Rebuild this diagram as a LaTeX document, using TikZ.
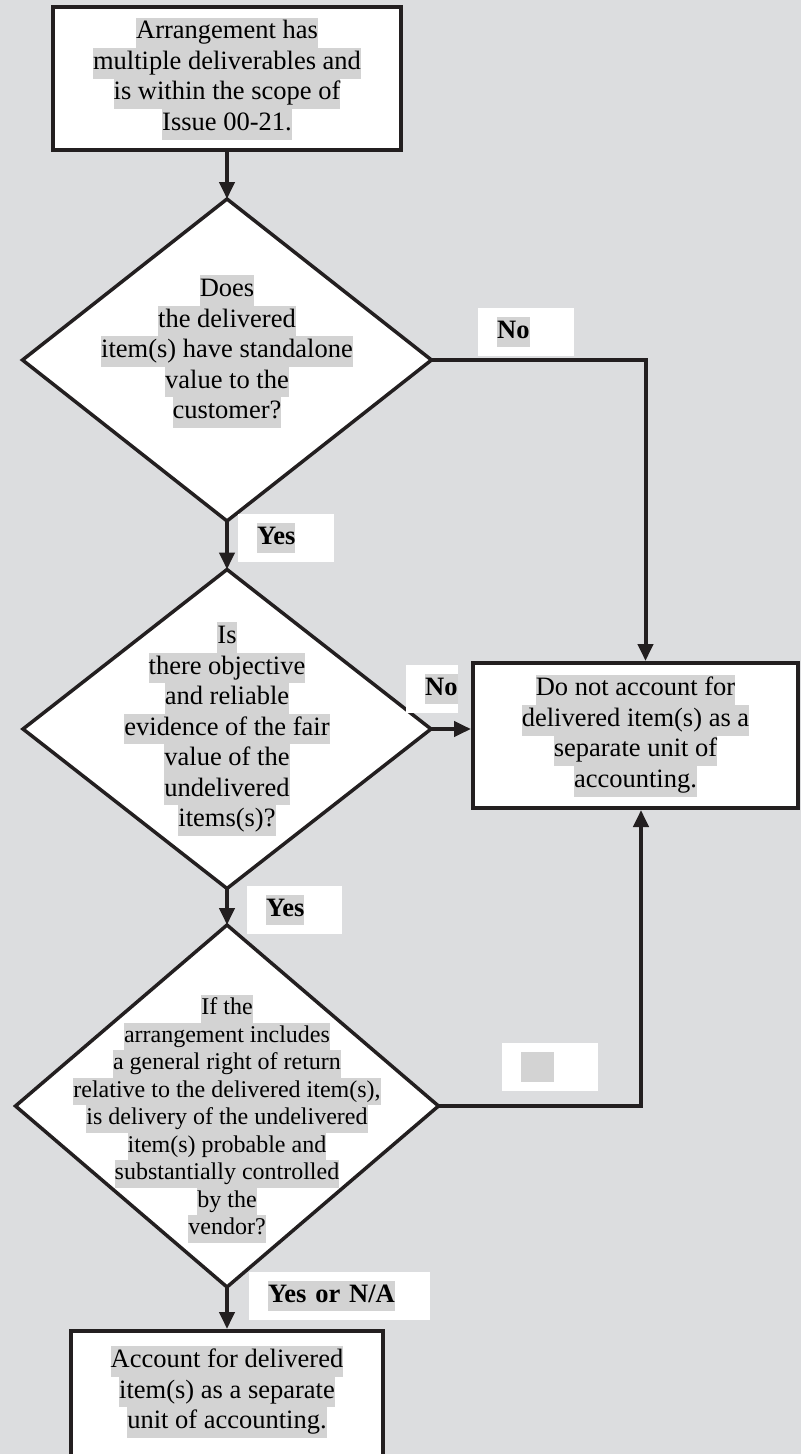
\documentclass[tikz,border=0pt]{standalone}
\usepackage{fontspec}
\setmainfont{Liberation Serif}
\usepackage{xcolor}
\usepackage{tikz}
\usetikzlibrary{shapes.geometric, arrows.meta}
\definecolor{bggray}{HTML}{DCDDDF}
\definecolor{hlgray}{HTML}{D3D3D3}
\definecolor{ink}{HTML}{231F20}
\newcommand{\hl}[1]{{\setlength{\fboxsep}{0pt}\colorbox{hlgray}{\strut #1}}}

\begin{document}
\begin{tikzpicture}[x=1pt, y=-1pt,
        box/.style={rectangle, draw=ink, line width=4pt, fill=white, inner sep=0pt, align=center, font=\fontsize{26.5}{30.5}\selectfont},
        decision/.style={diamond, draw=ink, line width=3.5pt, fill=white, inner sep=0pt, outer sep=0pt},
        question/.style={align=center, inner sep=0pt, font=\fontsize{26.5}{30.5}\selectfont},
        smallquestion/.style={align=center, inner sep=0pt, font=\fontsize{24}{27.5}\selectfont},
        answer/.style={fill=white, inner xsep=0pt, inner ysep=9pt, text width=#1, align=left, anchor=north west, font=\fontsize{26.5}{30}\selectfont\bfseries},
        arrow/.style={-{Triangle[length=17pt, width=15pt]}, line width=4pt, draw=ink},
        link/.style={line width=4pt, draw=ink}
    ]
        \useasboundingbox (0,0) rectangle (801,1454);
        \clip (0,0) rectangle (801,1454);
        \fill[bggray] (0,0) rectangle (801,1454);

        \node[box, minimum width=348pt, minimum height=143pt] (start) at (227,78.5) {\hl{Arrangement has}\\ \hl{multiple deliverables and}\\ \hl{is within the scope of}\\ \hl{Issue 00-21.}};

        \node[decision, minimum width=409pt, minimum height=322pt] (standalone) at (227,360) {};
        \node[question] (standalonetext) at (227,351.5) {\hl{Does}\\ \hl{the delivered}\\ \hl{item(s) have standalone}\\ \hl{value to the}\\ \hl{customer?}};

        \node[decision, minimum width=408pt, minimum height=319pt] (fairvalue) at (227,729) {};
        \node[question] (fairvaluetext) at (227,729) {\hl{Is}\\ \hl{there objective}\\ \hl{and reliable}\\ \hl{evidence of the fair}\\ \hl{value of the}\\ \hl{undelivered}\\ \hl{items(s)?}};

        \node[decision, minimum width=423pt, minimum height=362pt] (return) at (227,1106) {};
        \node[smallquestion] (returntext) at (227,1119) {\hl{If the}\\ \hl{arrangement includes}\\ \hl{a general right of return}\\ \hl{relative to the delivered item(s),}\\ \hl{is delivery of the undelivered}\\ \hl{item(s) probable and}\\ \hl{substantially controlled}\\ \hl{by the}\\ \hl{vendor?}};

        \node[box, minimum width=325pt, minimum height=145pt] (separateno) at (635.5,735.5) {\hl{Do not account for}\\ \hl{delivered item(s) as a}\\ \hl{separate unit of}\\ \hl{accounting.}};

        \node[box, minimum width=312pt, minimum height=260pt, anchor=north] (separateyes) at (227,1329) {};
        \node[question] (separateyestext) at (227,1392) {\hl{Account for delivered}\\ \hl{item(s) as a separate}\\ \hl{unit of accounting.}};

        \coordinate (turnno) at (645.5,360);
        \coordinate (turnreturn) at (641,1106);

        \draw[arrow] (start.south) -- (standalone.north);
        \draw[arrow] (standalone.south) -- (fairvalue.north);
        \draw[arrow] (fairvalue.south) -- (return.north);
        \draw[arrow] (return.south) -- (separateyes.north);
        \draw[arrow] (standalone.east) -- (turnno) -- (turnno |- separateno.north);
        \draw[arrow] (fairvalue.east) -- (fairvalue.east -| separateno.west);
        \draw[arrow] (return.east) -- (turnreturn) -- (turnreturn |- separateno.south);

        \node[answer=96pt] (noone) at (478,308) {\hspace*{19pt}\hl{No}};
        \node[answer=96pt] (yesone) at (238,514) {\hspace*{19pt}\hl{Yes}};
        \node[answer=52pt] (notwo) at (406,665) {\hspace*{19pt}\hl{No}};
        \node[answer=95pt] (yestwo) at (247,886) {\hspace*{19pt}\hl{Yes}};
        \node[answer=96pt] (nothree) at (502,1043) {\hspace*{19pt}\hl{\phantom{No}}};
        \node[answer=181pt] (yesna) at (249,1272) {\hspace*{19pt}\hl{Yes or N/A}};
    \end{tikzpicture}
\end{document}
